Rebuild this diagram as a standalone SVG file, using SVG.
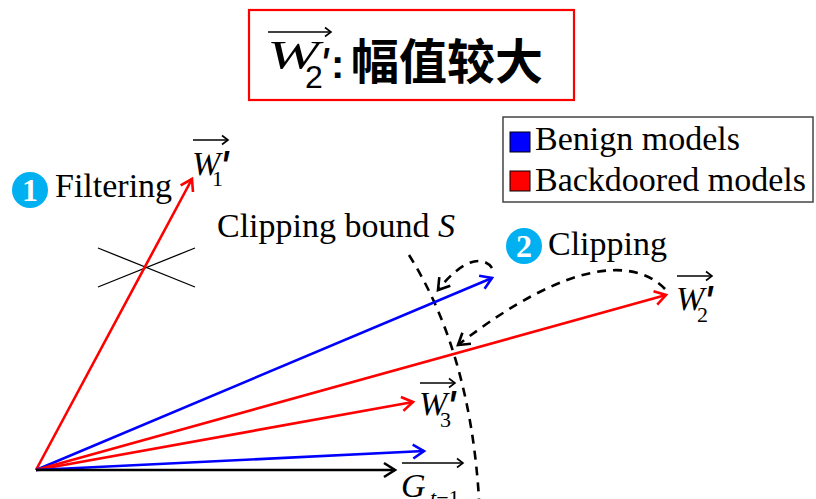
<svg xmlns="http://www.w3.org/2000/svg" width="816" height="499" viewBox="0 0 816 499">
<style>
.serif{font-family:"Liberation Serif","Times New Roman",serif;fill:#000}
.it{font-style:italic}
.lbl{font-size:34px}
.sub{font-size:22px}
.pr{font-family:"Liberation Sans",Arial,sans-serif;font-style:italic;font-size:48px;fill:#000}
.vec{stroke-width:2.6;fill:none}
.red{stroke:#FF0000}
.blue{stroke:#0000FF}
.blk{stroke:#000}
.dash{stroke:#000;stroke-width:2.6;fill:none;stroke-dasharray:9,7}
.ov{stroke:#000;stroke-width:1.6;fill:none}
.num{font-family:"Liberation Serif",serif;font-weight:bold;font-size:32px;fill:#fff}
</style>
<defs>
<marker id="ar" markerUnits="userSpaceOnUse" markerWidth="30" markerHeight="30" refX="0" refY="0" viewBox="-15 -15 30 30" orient="auto">
<path d="M-11,-7 L0,0 L-11,7" fill="none" stroke="#FF0000" stroke-width="2.6"/>
</marker>
<marker id="ab" markerUnits="userSpaceOnUse" markerWidth="30" markerHeight="30" refX="0" refY="0" viewBox="-15 -15 30 30" orient="auto">
<path d="M-11,-7 L0,0 L-11,7" fill="none" stroke="#0000FF" stroke-width="2.6"/>
</marker>
<marker id="ak" markerUnits="userSpaceOnUse" markerWidth="30" markerHeight="30" refX="0" refY="0" viewBox="-15 -15 30 30" orient="auto">
<path d="M-11,-7 L0,0 L-11,7" fill="none" stroke="#000" stroke-width="2.6" stroke-dasharray="none"/>
</marker>
<marker id="ao" markerUnits="userSpaceOnUse" markerWidth="20" markerHeight="20" refX="0" refY="0" viewBox="-10 -10 20 20" orient="auto">
<path d="M-6,-4.5 L0,0 L-6,4.5" fill="none" stroke="#000" stroke-width="1.6"/>
</marker>
</defs>

<g id="title">
<rect x="249" y="10" width="325" height="90" fill="#fff" stroke="#FF0000" stroke-width="2.2"/>
<line class="ov" x1="268" y1="32" x2="331" y2="32" marker-end="url(#ao)" stroke-width="2"/>
<text class="serif it" x="267" y="68" font-size="40" textLength="52" lengthAdjust="spacingAndGlyphs">W</text>
<text class="pr" x="319" y="81" font-size="54">'</text>
<text x="305" y="88" font-family="Liberation Sans,Arial,sans-serif" font-size="32">2</text>
<text x="331" y="78" font-family="Liberation Sans,Arial,sans-serif" font-weight="bold" font-size="40">:</text>
<text x="351" y="79" font-family="Noto Sans CJK SC,sans-serif" font-weight="bold" font-size="48">幅值较大</text>
</g>

<g id="legend">
<rect x="503" y="117" width="310" height="85" fill="#fff" stroke="#444" stroke-width="1.5"/>
<rect x="510" y="132" width="20" height="20" fill="#0000FF" stroke="#000" stroke-width="1"/>
<text class="serif lbl" x="535" y="150">Benign models</text>
<rect x="510" y="171" width="20" height="20" fill="#FF0000" stroke="#000" stroke-width="1"/>
<text class="serif lbl" x="535" y="191">Backdoored models</text>
</g>

<g id="step1">
<circle cx="30" cy="190" r="18" fill="#00B0F0"/>
<text class="num" x="30" y="201" text-anchor="middle">1</text>
<text class="serif lbl" x="55" y="197">Filtering</text>
</g>

<g id="step2">
<circle cx="524" cy="246" r="18" fill="#00B0F0"/>
<text class="num" x="524" y="257" text-anchor="middle">2</text>
<text class="serif lbl" x="548" y="255">Clipping</text>
</g>

<g id="bound">
<text class="serif lbl" x="217" y="237">Clipping bound <tspan class="it">S</tspan></text>
<path class="dash" d="M409,255 Q470,352 479,499"/>
</g>

<g id="cross">
<line x1="98" y1="287" x2="195" y2="248" stroke="#000" stroke-width="1.3"/>
<line x1="98" y1="248" x2="195" y2="287" stroke="#000" stroke-width="1.3"/>
</g>

<g id="connectors">
<line class="vec red" x1="36" y1="470" x2="192" y2="179" marker-end="url(#ar)"/>
<line class="vec blue" x1="36" y1="470" x2="492" y2="278" marker-end="url(#ab)"/>
<line class="vec red" x1="36" y1="470" x2="666" y2="295" marker-end="url(#ar)"/>
<line class="vec red" x1="36" y1="470" x2="413" y2="402" marker-end="url(#ar)"/>
<line class="vec blue" x1="36" y1="470" x2="424" y2="451" marker-end="url(#ab)"/>
<line class="vec blk" x1="36" y1="470" x2="395" y2="470" marker-end="url(#ak)"/>
<path class="dash" d="M492,268 C484,256 464,257 438,290" marker-end="url(#ak)"/>
<path class="dash" d="M665,289 C635,258 570,258 458,345" marker-end="url(#ak)"/>
</g>

<g id="W1">
<line class="ov" x1="193" y1="140" x2="228" y2="140" marker-end="url(#ao)"/>
<text class="serif it lbl" x="192" y="175">W</text>
<text class="pr" x="219" y="184">'</text>
<text class="serif sub" x="212" y="186">1</text>
</g>

<g id="W2">
<line class="ov" x1="677" y1="276" x2="712" y2="276" marker-end="url(#ao)"/>
<text class="serif it lbl" x="676" y="310">W</text>
<text class="pr" x="703" y="319">'</text>
<text class="serif sub" x="697" y="322">2</text>
</g>

<g id="W3">
<line class="ov" x1="420" y1="383" x2="455" y2="383" marker-end="url(#ao)"/>
<text class="serif it lbl" x="419" y="415">W</text>
<text class="pr" x="446" y="424">'</text>
<text class="serif sub" x="440" y="427">3</text>
</g>

<g id="G">
<line class="ov" x1="402" y1="463" x2="463" y2="463" marker-end="url(#ao)"/>
<text class="serif it lbl" x="401" y="497">G</text>
<text class="serif sub" x="430" y="505"><tspan class="it">t</tspan>−1</text>
</g>
</svg>
